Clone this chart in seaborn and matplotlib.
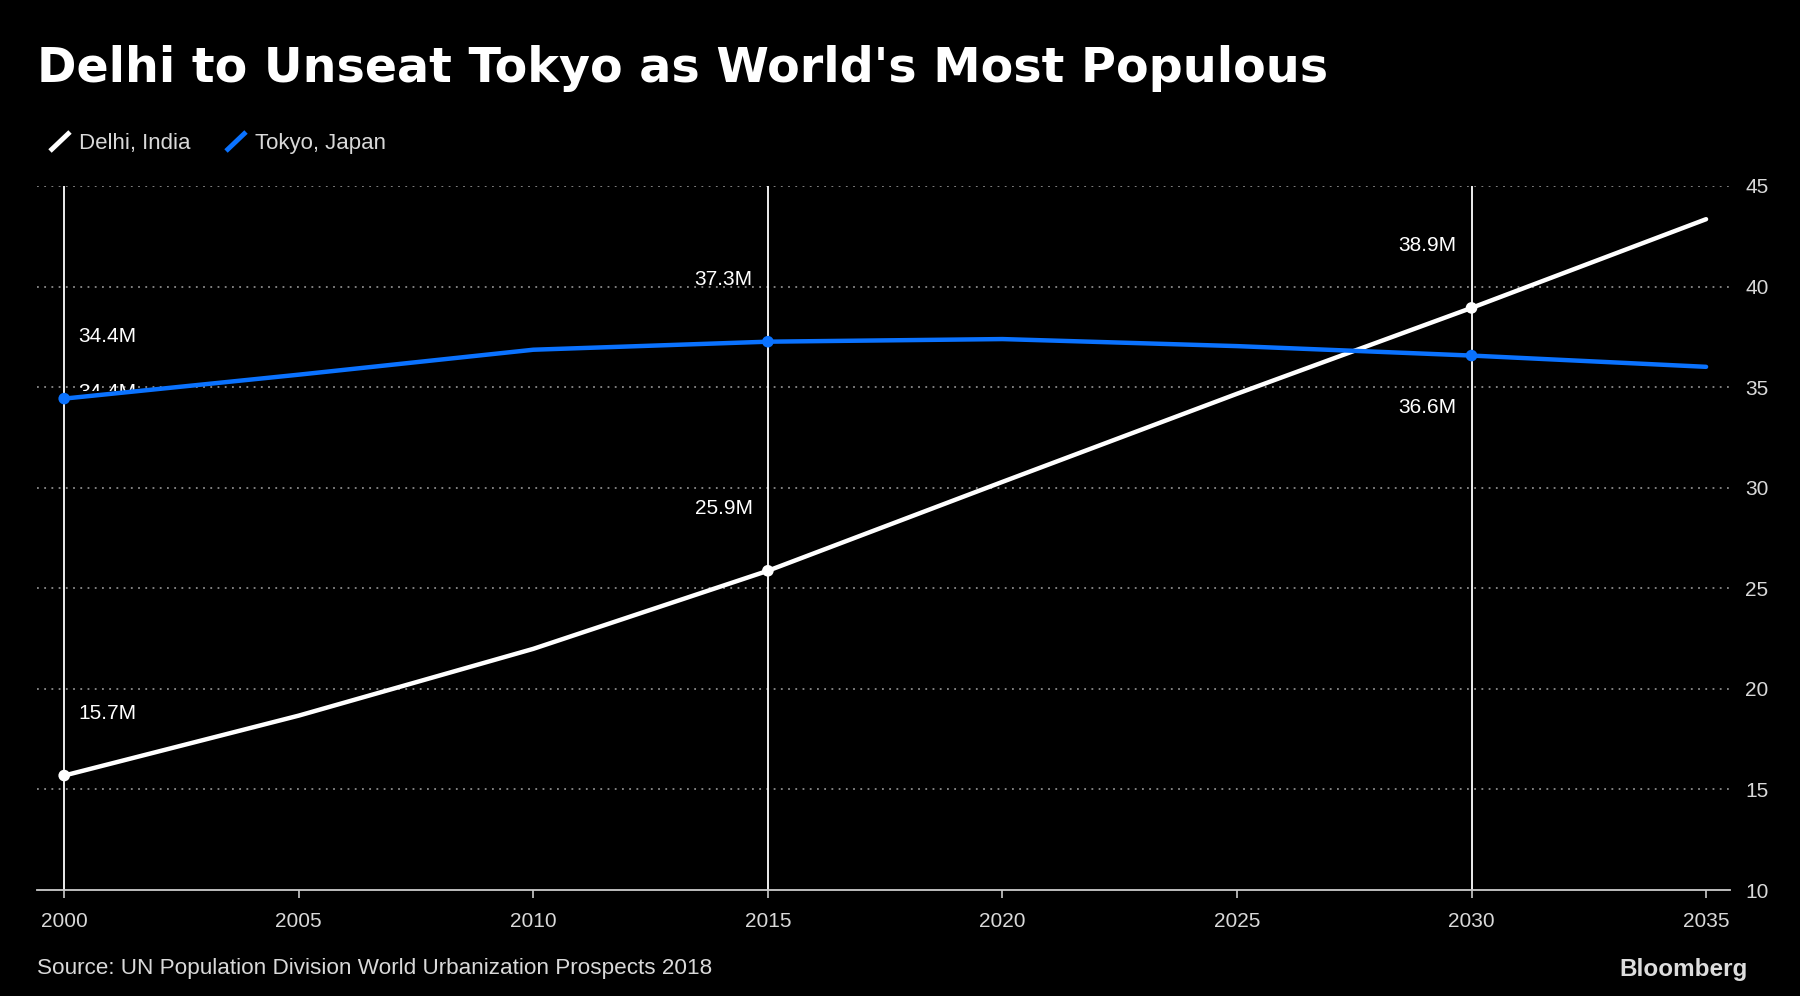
import numpy as np
import pandas as pd
import matplotlib.pyplot as plt
import seaborn as sns
from matplotlib.lines import Line2D
from matplotlib.transforms import Bbox, TransformedBbox

# data (UN World Urbanization Prospects 2018, millions)
years = [2000, 2005, 2010, 2015, 2020, 2025, 2030, 2035]
delhi = [15.69, 18.67, 21.99, 25.87, 30.29, 34.67, 38.94, 43.35]
tokyo = [34.43, 35.62, 36.86, 37.26, 37.39, 37.04, 36.57, 36.01]
cities = ['Delhi, India', 'Tokyo, Japan']
marked_years = [2000, 2015, 2030]
y_ticks = [10, 15, 20, 25, 30, 35, 40, 45]

title = "Delhi to Unseat Tokyo as World's Most Populous"
source = 'Source: UN Population Division World Urbanization Prospects 2018'

colors = {'Delhi, India': '#ffffff', 'Tokyo, Japan': '#0a72ff'}

df = pd.DataFrame({
    'year': years * 2,
    'pop': delhi + tokyo,
    'city': [cities[0]] * len(years) + [cities[1]] * len(years),
})
marked = df[df['year'].isin(marked_years)]

sns.set_style('dark')
plt.rcParams['font.family'] = ['Liberation Sans', 'DejaVu Sans']
plt.rcParams['axes.facecolor'] = 'black'
plt.rcParams['figure.facecolor'] = 'black'

W, H = 1800, 996
fig = plt.figure(figsize=(W / 100, H / 100), dpi=100)
ax = fig.add_axes([37 / W, 1 - 890 / H, (1730 - 37) / W, (890 - 186) / H])
ax.set_facecolor('black')

txt_col = '#d9d9d9'
fs = 15

# horizontal dotted grid
for v in y_ticks[1:]:
    ax.axhline(v, color='#8a8a8a', lw=1.3, ls=(0, (1, 3)), zorder=1)
# vertical markers
for yr in marked_years:
    ax.axvline(yr, color='white', lw=1.3, zorder=2)

# ghost label partly hidden behind the Tokyo line at 2000 (only its top shows)
ghost = ax.annotate(f'{tokyo[0]:.1f}M', (years[0], tokyo[0]), xytext=(14, 6),
                    textcoords='offset pixels', ha='left', va='center',
                    color='white', fontsize=fs, zorder=3)
ghost.set_clip_on(True)
ghost.set_clip_box(TransformedBbox(Bbox([[1999.5, 34.8], [2003.0, 36.5]]),
                                   ax.transData))

sns.lineplot(data=df, x='year', y='pop', hue='city', palette=colors,
             lw=3.2, legend=False, ax=ax, zorder=4)
sns.scatterplot(data=marked, x='year', y='pop', hue='city', palette=colors,
                s=70, edgecolor='none', legend=False, ax=ax, zorder=5)

# value labels
below = {(cities[1], 2030)}
for _, r in marked.iterrows():
    dy = -52 if (r['city'], r['year']) in below else 62
    if r['year'] == marked_years[0]:
        dx, ha = 14, 'left'
    else:
        dx, ha = -15, 'right'
    ax.annotate(f"{r['pop']:.1f}M", (r['year'], r['pop']), xytext=(dx, dy),
                textcoords='offset pixels', ha=ha, va='center',
                color='white', fontsize=fs, zorder=6)

ax.set_xlim(1999.42, 2035.51)
ax.set_ylim(10, 45)
ax.set_xticks(years)
ax.set_yticks(y_ticks)
ax.set_xlabel('')
ax.set_ylabel('')
ax.grid(False)
ax.yaxis.tick_right()
ax.tick_params(axis='y', length=0, pad=11, labelsize=fs, labelcolor=txt_col)
ax.tick_params(axis='x', length=6, width=1.2, color='#cccccc', direction='out',
               pad=10, labelsize=fs, labelcolor=txt_col)
ax.xaxis.set_ticks_position('bottom')
for s in ['top', 'left', 'right']:
    ax.spines[s].set_visible(False)
ax.spines['bottom'].set_color('#cccccc')
ax.spines['bottom'].set_linewidth(1.3)

# title
fig.text(37 / W, 1 - 68 / H, title, color='white', fontsize=34.25,
         fontweight='bold', family='DejaVu Sans', ha='left', va='center')

# legend
for x0, name in [(50, cities[0]), (226, cities[1])]:
    fig.add_artist(Line2D([x0 / W, (x0 + 20) / W], [1 - 151 / H, 1 - 132 / H],
                          transform=fig.transFigure, color=colors[name],
                          lw=3.5, solid_capstyle='butt'))
    fig.text((x0 + 29) / W, 1 - 143 / H, name, color=txt_col, fontsize=16,
             ha='left', va='center')

# footer
fig.text(37 / W, 1 - 968 / H, source, color=txt_col, fontsize=16.2,
         ha='left', va='center')
fig.text(1748 / W, 1 - 969 / H, 'Bloomberg', color='#dddddd', fontsize=17.5,
         fontweight='bold', ha='right', va='center')

fig.savefig('out.png', dpi=100, facecolor='black')
